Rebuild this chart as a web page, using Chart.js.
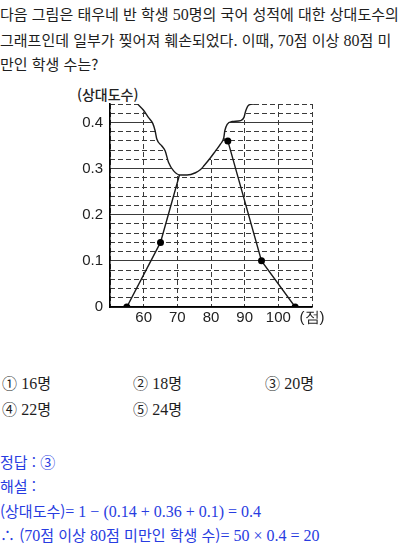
<!DOCTYPE html>
<html lang="ko">
<head>
<meta charset="utf-8">
<script src="https://cdn.jsdelivr.net/npm/chart.js@4.4.1/dist/chart.umd.min.js"></script>
<style>
  html, body { margin: 0; padding: 0; background: #fff; }
  body { width: 400px; height: 544px; position: relative; overflow: hidden;
         font-family: "Noto Sans CJK KR", "Noto Sans", sans-serif; color: #1e1e1e; }
  .t { position: absolute; white-space: nowrap; font-size: 15px; line-height: 25px; }
  .n { font-family: "Liberation Serif", "DejaVu Serif", serif; font-size: 16px; }
  .blue { color: rgb(40, 60, 225); }
  #wrap { position: absolute; left: 0; top: 80px; width: 400px; height: 255px; }
  #ylab { position: absolute; left: 77px; top: 84px; font-size: 14px; line-height: 20px; font-weight: 500; color: #222; }
</style>
</head>
<body>
<div class="t" style="left:0;top:1px">다음 그림은 태우네 반 학생 <span class="n">50</span>명의 국어 성적에 대한 상대도수의</div>
<div class="t" style="left:0;top:27px">그래프인데 일부가 찢어져 훼손되었다. 이때, <span class="n">70</span>점 이상 <span class="n">80</span>점 미</div>
<div class="t" style="left:0;top:51px">만인 학생 수는?</div>

<div id="ylab">(상대도수)</div>
<div id="wrap"><canvas id="c"></canvas></div>

<div class="t" style="left:2px;top:370px">① <span class="n">16</span>명</div>
<div class="t" style="left:133px;top:370px">② <span class="n">18</span>명</div>
<div class="t" style="left:265px;top:370px">③ <span class="n">20</span>명</div>
<div class="t" style="left:2px;top:396px">④ <span class="n">22</span>명</div>
<div class="t" style="left:133px;top:396px">⑤ <span class="n">24</span>명</div>

<div class="t blue" style="left:0;top:449px">정답 : ③</div>
<div class="t blue" style="left:0;top:473px">해설 :</div>
<div class="t blue" style="left:0;top:498px">(상대도수)<span class="n">= 1 − (0.14 + 0.36 + 0.1) = 0.4</span></div>
<div class="t blue" style="left:0;top:522px">∴ (<span class="n">70</span>점 이상 <span class="n">80</span>점 미만인 학생 수)<span class="n">= 50 × 0.4 = 20</span></div>

<script>
// Data
const classMarks = [55, 65, 75, 85, 95, 105];
const relFreq = [0, 0.14, 0.4, 0.36, 0.1, 0];
const xTicks = [60, 70, 80, 90, 100];
const xUnitLabel = '(점)';
const yTicks = [0, 0.1, 0.2, 0.3, 0.4];
// torn edge outline (score, relative frequency)
const tearX = [58.2, 59.9, 61.4, 62.7, 63.4, 63.9, 65.4, 66.4, 67.4, 68.9, 70.9, 72.9, 75.4, 76.9, 77.9, 79.9, 81.3, 82.8, 83.8, 84.1, 84.8, 86.3, 88.8, 89.8, 90.3, 91.3, 92.8];
const tearY = [0.44, 0.427, 0.411, 0.398, 0.382, 0.364, 0.349, 0.338, 0.313, 0.295, 0.286, 0.286, 0.291, 0.298, 0.306, 0.324, 0.338, 0.353, 0.367, 0.382, 0.396, 0.402, 0.404, 0.411, 0.425, 0.438, 0.44];

const polyPts = classMarks.map((x, i) => ({x: x, y: relFreq[i]}));
const tearPts = tearX.map((x, i) => ({x: x, y: tearY[i]}));

const ink = '#1a1a1a';
const gridC = '#3a3a3a';
const tickFont = {family: '"Liberation Sans", Arial, sans-serif', size: 15};

new Chart(document.getElementById('c'), {
  type: 'line',
  data: {
    datasets: [
      {
        data: tearPts,
        borderColor: ink,
        borderWidth: 1.4,
        backgroundColor: '#ffffff',
        fill: 'end',
        pointRadius: 0,
        cubicInterpolationMode: 'monotone',
        yAxisID: 'y'
      },
      {
        data: polyPts,
        borderColor: ink,
        borderWidth: 1.4,
        pointRadius: 3.5,
        pointBackgroundColor: '#000',
        pointBorderColor: '#000',
        pointBorderWidth: 0,
        fill: false,
        tension: 0,
        yAxisID: 'y'
      }
    ]
  },
  options: {
    responsive: true,
    maintainAspectRatio: false,
    animation: false,
    events: [],
    layout: { padding: { left: 70, right: 88, top: 24, bottom: 0 } },
    plugins: { legend: { display: false }, tooltip: { enabled: false } },
    scales: {
      x: {
        type: 'linear', min: 50, max: 110,
        ticks: {
          stepSize: 10, autoSkip: false, padding: 2, color: '#222', font: tickFont, maxRotation: 0,
          callback: (v) => v === 110 ? xUnitLabel : (xTicks.includes(v) ? String(v) : '')
        },
        grid: { color: gridC, lineWidth: 1, drawTicks: false },
        border: { color: '#000', width: 1.6, dash: [5, 3] },
        afterFit: (s) => { s.height = 28; }
      },
      y2: {
        type: 'linear', position: 'left', min: 0, max: 0.44,
        ticks: { display: false, stepSize: 0.02 },
        grid: { color: gridC, lineWidth: 1, drawTicks: false },
        border: { display: false, dash: [5, 3] },
        afterFit: (s) => { s.width = 0; }
      },
      y: {
        type: 'linear', position: 'left', min: 0, max: 0.44,
        ticks: {
          stepSize: 0.1, includeBounds: false, padding: 7, color: '#222', font: tickFont,
          callback: (v) => { const r = Math.round(v * 10) / 10; return yTicks.includes(r) ? String(r) : ''; }
        },
        grid: { color: gridC, lineWidth: 1, drawTicks: false },
        border: { color: '#000', width: 1.6 },
        afterFit: (s) => { s.width = 40; }
      }
    }
  }
});
</script>
</body>
</html>
